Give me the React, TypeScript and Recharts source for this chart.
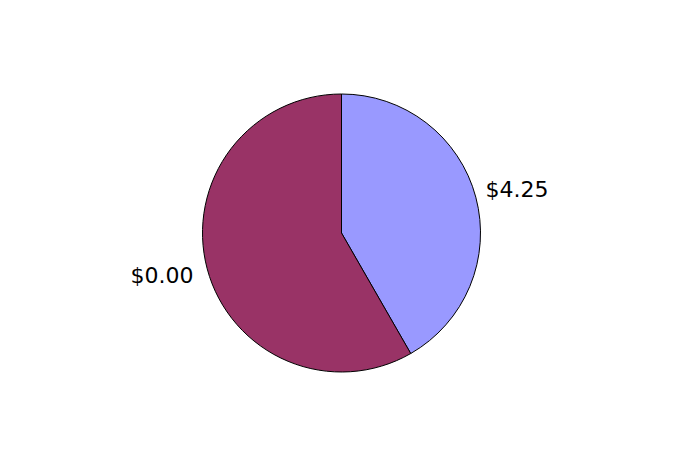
import React from "react";
import { PieChart, Pie, Cell } from "recharts";

const categories = ["A", "B"];
const values = [41.7, 58.3];
const labels = ["$4.25", "$0.00"];
const colors = ["#9999FF", "#993366"];

const data = categories.map((c, i) => ({ name: c, value: values[i], label: labels[i] }));

const RAD = Math.PI / 180;

const renderLabel = (props: any) => {
  const { cx, cy, midAngle, outerRadius, index } = props;
  const r = outerRadius + 10;
  const cos = Math.cos(-midAngle * RAD);
  const sin = Math.sin(-midAngle * RAD);
  const x = cx + r * cos + (cos >= 0 ? 0 : -4);
  const y = cy + r * sin + (cos >= 0 ? -5 : 4);
  return (
    <text
      x={x}
      y={y}
      fill="#000"
      textAnchor={cos >= 0 ? "start" : "end"}
      dominantBaseline="central"
      fontFamily="DejaVu Sans, sans-serif"
      fontSize={22}
    >
      {labels[index]}
    </text>
  );
};

export default function App() {
  return (
    <div style={{ position: "fixed", top: 0, left: 0, width: 683, height: 467, background: "#fff" }}>
      <PieChart width={683} height={467} margin={{ top: 0, right: 0, bottom: 0, left: 0 }}>
        <Pie
          data={data}
          dataKey="value"
          cx={341.5}
          cy={233}
          outerRadius={139}
          startAngle={90}
          endAngle={-270}
          stroke="#000"
          strokeWidth={1}
          label={renderLabel}
          labelLine={false}
          isAnimationActive={false}
        >
          {data.map((d, i) => (
            <Cell key={d.name} fill={colors[i]} />
          ))}
        </Pie>
      </PieChart>
    </div>
  );
}
